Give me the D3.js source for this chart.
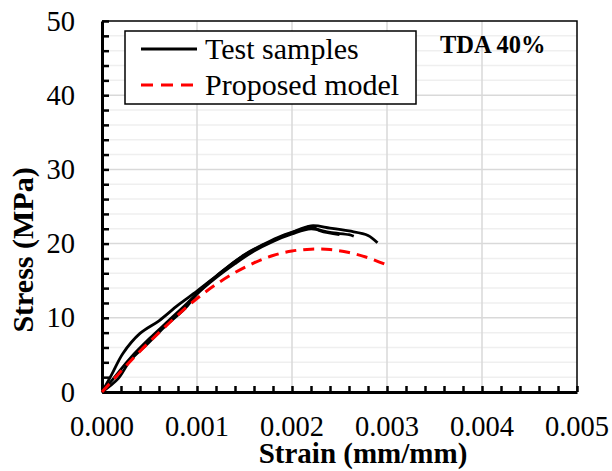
<!DOCTYPE html>
<html>
<head>
<meta charset="utf-8">
<script src="https://cdn.jsdelivr.net/npm/d3@7"></script>
<style>
  body { margin: 0; background: #fff; }
  text { font-family: "Liberation Serif", "DejaVu Serif", serif; }
</style>
</head>
<body>
<div id="chart"></div>
<script>
// Test sample curves, [strain, stress]
var sample1 = [[0, 0], [0.0001, 2.3], [0.00022, 5.2], [0.0004, 7.9], [0.0006, 9.6], [0.0008, 11.7],
  [0.001, 13.6], [0.0012, 15.6], [0.0014, 17.6], [0.0016, 19.2], [0.0018, 20.4], [0.002, 21.5],
  [0.0022, 22.4], [0.0024, 22.1], [0.0026, 21.7], [0.0028, 21.1], [0.0029, 20.1]];
var sample2 = [[0, 0], [0.00017, 1.8], [0.0003, 4.3], [0.00048, 6.5], [0.00066, 8.8], [0.00087, 11.2],
  [0.001, 13.2], [0.0012, 15.4], [0.0014, 17.3], [0.0016, 19.0], [0.0018, 20.3], [0.002, 21.3],
  [0.0022, 22.0], [0.0024, 21.5], [0.0026, 21.2], [0.00265, 21.0]];
var sample3 = [[0, 0], [0.0001, 1.5], [0.0003, 4.6], [0.0005, 7.2], [0.0007, 9.6], [0.0009, 12.0],
  [0.0011, 14.5], [0.0013, 16.6], [0.0015, 18.5], [0.0017, 19.9], [0.0019, 21.1], [0.0021, 21.9],
  [0.0022, 22.3], [0.0023, 21.7], [0.0025, 21.2]];
// Proposed model curve
var model = [[0, 0], [0.0002, 2.8], [0.0004, 5.5], [0.0006, 8.0], [0.0008, 10.4], [0.001, 12.6],
  [0.0012, 14.5], [0.0014, 16.1], [0.0016, 17.4], [0.0018, 18.4], [0.002, 19.0], [0.0022, 19.25],
  [0.0024, 19.2], [0.0026, 18.8], [0.0028, 18.1], [0.003, 17.1]];

var xTicks = [0, 0.001, 0.002, 0.003, 0.004, 0.005];
var yTicks = [0, 10, 20, 30, 40, 50];
var legendNames = ["Test samples", "Proposed model"];

var width = 612, height = 471,
  margin = {top: 21, right: 35, bottom: 79, left: 102},
  serif = "Liberation Serif, DejaVu Serif, serif";

var svg = d3.select("#chart").append("svg")
  .attr("width", width).attr("height", height)
  .attr("font-family", serif);

var x = d3.scaleLinear().domain([0, 0.005]).range([margin.left, width - margin.right]);
var y = d3.scaleLinear().domain([0, 50]).range([height - margin.bottom, margin.top]);

// Grid lines
svg.append("g").selectAll("line")
  .data(d3.range(2, 50, 2).filter(function (d) { return d % 10 !== 0; }))
  .enter().append("line")
  .attr("x1", x(0)).attr("x2", x(0.005))
  .attr("y1", function (d) { return y(d); }).attr("y2", function (d) { return y(d); })
  .attr("stroke", "#efefef").attr("stroke-width", 1.5);

svg.append("g").selectAll("line")
  .data([10, 20, 30, 40])
  .enter().append("line")
  .attr("x1", x(0)).attr("x2", x(0.005))
  .attr("y1", function (d) { return y(d); }).attr("y2", function (d) { return y(d); })
  .attr("stroke", "#d9d9d9").attr("stroke-width", 1.5);

svg.append("g").selectAll("line")
  .data([0.001, 0.002, 0.003, 0.004])
  .enter().append("line")
  .attr("y1", y(0)).attr("y2", y(50))
  .attr("x1", function (d) { return x(d); }).attr("x2", function (d) { return x(d); })
  .attr("stroke", "#d9d9d9").attr("stroke-width", 1.5);

// Frame (top and right)
svg.append("path")
  .attr("d", "M" + x(0) + "," + y(50) + "H" + x(0.005) + "V" + y(0))
  .attr("fill", "none").attr("stroke", "#000").attr("stroke-width", 1.5);

// Axes with inward ticks
var xAxis = d3.axisBottom(x).tickValues(d3.range(0, 0.00501, 0.0002)).tickSize(-6).tickSizeOuter(0).tickFormat("");
var gx = svg.append("g").attr("transform", "translate(0," + y(0) + ")").call(xAxis);
gx.select(".domain").attr("stroke-width", 3);
gx.selectAll(".tick line").attr("stroke-width", 2.5);

var yAxis = d3.axisLeft(y).tickValues(d3.range(0, 50.1, 2)).tickSize(-7).tickSizeOuter(0).tickFormat("");
var gy = svg.append("g").attr("transform", "translate(" + x(0) + ",0)").call(yAxis);
gy.select(".domain").attr("stroke-width", 3);
gy.selectAll(".tick line").attr("stroke-width", 2.5);

// Tick labels
svg.append("g").selectAll("text")
  .data(xTicks).enter().append("text")
  .attr("x", function (d) { return x(d); })
  .attr("y", 435.5)
  .attr("text-anchor", "middle")
  .attr("font-family", serif)
  .attr("font-size", 28.5)
  .text(function (d) { return d3.format(".3f")(d); });

svg.append("g").selectAll("text")
  .data(yTicks).enter().append("text")
  .attr("x", 75)
  .attr("y", function (d) { return y(d) + 9.5; })
  .attr("text-anchor", "end")
  .attr("font-family", serif)
  .attr("font-size", 28.5)
  .text(function (d) { return d; });

// Axis titles
svg.append("text")
  .attr("x", 363).attr("y", 463)
  .attr("text-anchor", "middle")
  .attr("font-family", serif)
  .attr("font-size", 29).attr("font-weight", "bold")
  .text("Strain (mm/mm)");

svg.append("text")
  .attr("transform", "translate(33,250) rotate(-90)")
  .attr("text-anchor", "middle")
  .attr("font-family", serif)
  .attr("font-size", 30).attr("font-weight", "bold")
  .text("Stress (MPa)");

// Curves
var line = d3.line()
  .x(function (d) { return x(d[0]); })
  .y(function (d) { return y(d[1]); })
  .curve(d3.curveCatmullRom);

svg.append("g").selectAll("path")
  .data([sample1, sample2, sample3])
  .enter().append("path")
  .attr("d", line)
  .attr("fill", "none").attr("stroke", "#000").attr("stroke-width", 2.8);

svg.append("path")
  .attr("d", line(model))
  .attr("fill", "none").attr("stroke", "#ff0000").attr("stroke-width", 3)
  .attr("stroke-dasharray", "11,7");

// TDA label
svg.append("text")
  .attr("x", 440).attr("y", 53)
  .attr("font-family", serif)
  .attr("font-size", 24.5).attr("font-weight", "bold")
  .text("TDA 40%");

// Legend
var legend = svg.append("g");
legend.append("rect")
  .attr("x", 125).attr("y", 31).attr("width", 291).attr("height", 73)
  .attr("fill", "#fff").attr("stroke", "#000").attr("stroke-width", 1.5);

var items = legend.selectAll(".key")
  .data(legendNames).enter().append("g")
  .attr("class", "key")
  .attr("transform", function (d, i) { return "translate(0," + (49 + i * 36) + ")"; });

items.append("line")
  .attr("x1", 141).attr("x2", 197)
  .attr("stroke", function (d, i) { return i === 0 ? "#000" : "#ff0000"; })
  .attr("stroke-width", function (d, i) { return i === 0 ? 2.8 : 3; })
  .attr("stroke-dasharray", function (d, i) { return i === 0 ? null : "12,8"; });

items.append("text")
  .attr("x", 205).attr("y", 9.5)
  .attr("font-family", serif)
  .attr("font-size", 30)
  .text(function (d) { return d; });
</script>
</body>
</html>
